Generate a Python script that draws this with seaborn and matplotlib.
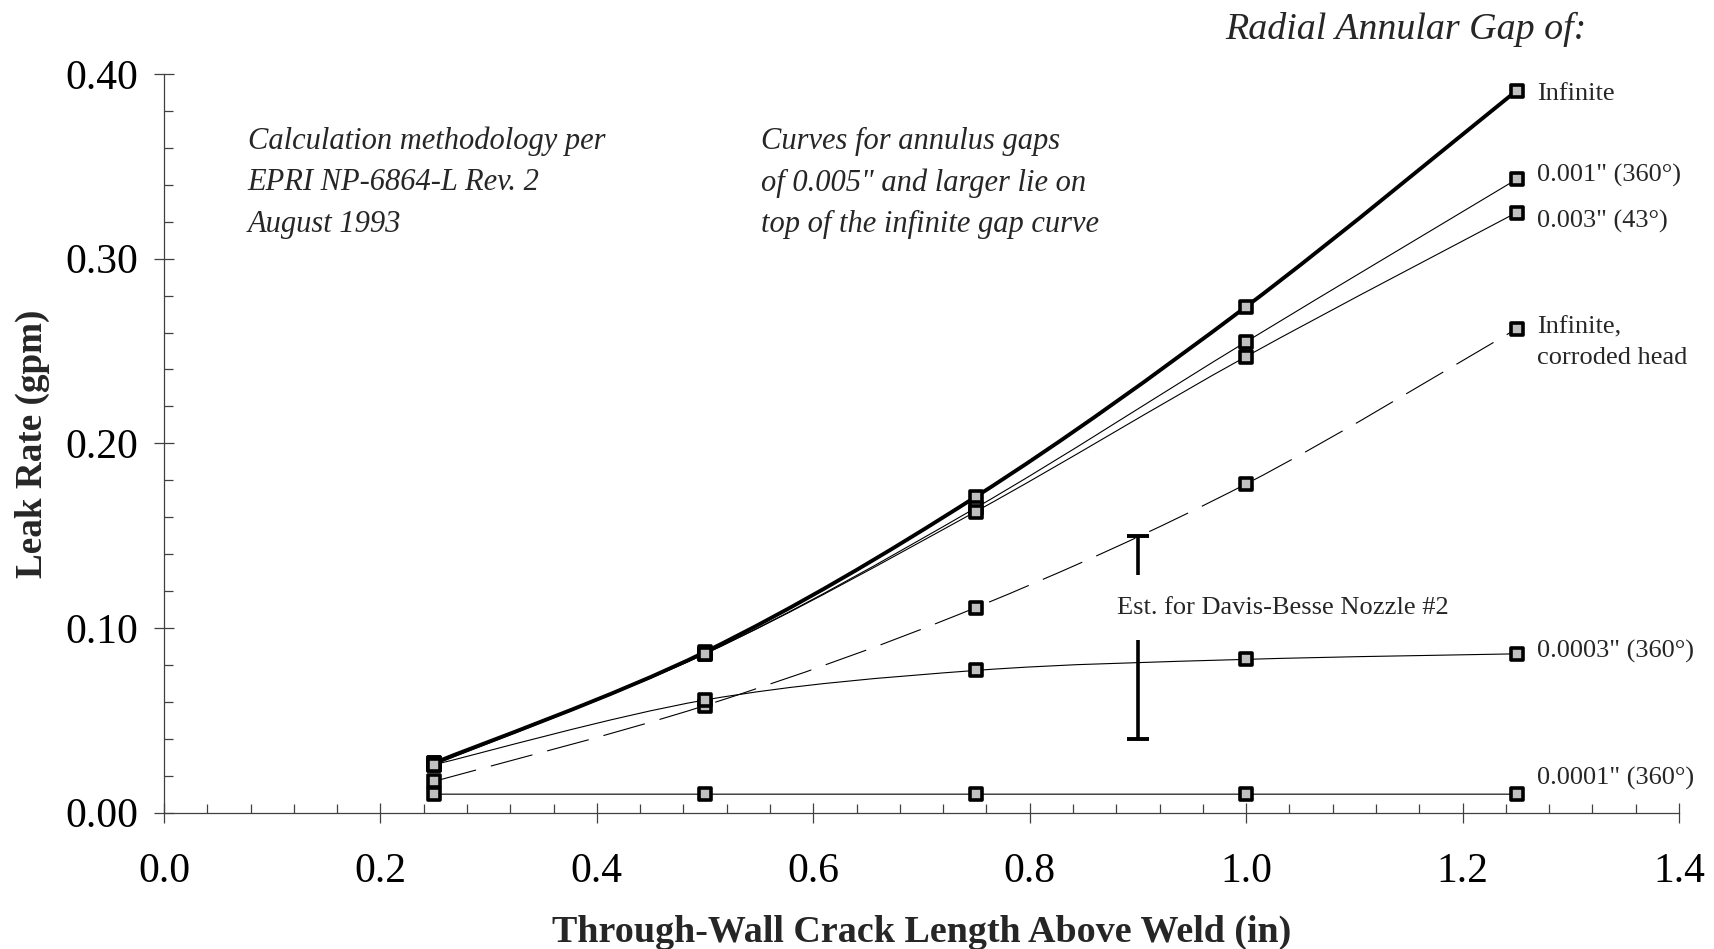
import numpy as np
import pandas as pd
import matplotlib
matplotlib.use("Agg")
import matplotlib.pyplot as plt
from matplotlib.path import Path
from matplotlib.patches import PathPatch, Rectangle
from matplotlib.ticker import MultipleLocator, FormatStrFormatter
import seaborn as sns

# Through-wall crack length above weld (in)
crack_length = [0.25, 0.50, 0.75, 1.00, 1.25]

# Leak rate (gpm) for each radial annular gap
leak_infinite = [0.027, 0.087, 0.171, 0.274, 0.391]
leak_gap_0010 = [0.027, 0.086, 0.165, 0.255, 0.343]
leak_gap_0030 = [0.026, 0.086, 0.163, 0.247, 0.325]
leak_corroded = [0.017, 0.058, 0.111, 0.178, 0.262]
leak_gap_0003 = [0.026, 0.061, 0.077, 0.083, 0.086]
leak_gap_0001 = [0.010, 0.010, 0.010, 0.010, 0.010]

series_names = ["Infinite", "0.001\" (360°)", "0.003\" (43°)",
                "Infinite,\ncorroded head", "0.0003\" (360°)", "0.0001\" (360°)"]
series_values = [leak_infinite, leak_gap_0010, leak_gap_0030,
                 leak_corroded, leak_gap_0003, leak_gap_0001]

# Davis-Besse nozzle #2 estimated range
est_x = 0.90
est_low = 0.04
est_high = 0.15

sns.set_theme(style="white")
plt.rcParams["font.family"] = ["Liberation Serif", "DejaVu Serif"]
plt.rcParams["lines.scale_dashes"] = False

fig = plt.figure(figsize=(17.15, 9.49), dpi=100)
ax = fig.add_axes([0.0956, 0.1437, 0.8834, 0.7783])


def smooth_path(xs, ys):
    """Cubic Bezier path through the points (Catmull-Rom style tangents)."""
    pts = np.column_stack([xs, ys]).astype(float)
    n = len(pts)
    verts = [pts[0]]
    codes = [Path.MOVETO]
    for i in range(n - 1):
        p0 = pts[i - 1] if i > 0 else pts[i]
        p1 = pts[i]
        p2 = pts[i + 1]
        p3 = pts[i + 2] if i + 2 < n else pts[i + 1]
        c1 = p1 + (p2 - p0) / 6.0
        c2 = p2 - (p3 - p1) / 6.0
        verts += [c1, c2, p2]
        codes += [Path.CURVE4] * 3
    return Path(verts, codes)


line_styles = {
    "Infinite": dict(lw=2.8, ls="-"),
    "0.001\" (360°)": dict(lw=0.8, ls="-"),
    "0.003\" (43°)": dict(lw=0.8, ls="-"),
    "Infinite,\ncorroded head": dict(lw=0.8, ls=(0, (31, 11))),
    "0.0003\" (360°)": dict(lw=0.8, ls="-"),
    "0.0001\" (360°)": dict(lw=0.8, ls="-"),
}

# draw thin curves first, thick "Infinite" curve on top
for name, vals in list(zip(series_names, series_values))[::-1]:
    st = line_styles[name]
    patch = PathPatch(smooth_path(crack_length, vals), facecolor="none",
                      edgecolor="black", lw=st["lw"], linestyle=st["ls"],
                      capstyle="butt", joinstyle="round", zorder=3)
    ax.add_patch(patch)

# square markers at the computed points
df = pd.DataFrame({
    "crack": np.tile(crack_length, len(series_names)),
    "leak": np.concatenate(series_values),
    "series": np.repeat(series_names, len(crack_length)),
})
sns.scatterplot(data=df, x="crack", y="leak", marker="s", s=70,
                color="#c0c0c0", edgecolor="black", linewidth=2.6,
                legend=False, ax=ax, zorder=5)
for coll in ax.collections:
    coll.set_joinstyle("round")

# estimate range bar for Davis-Besse nozzle #2, broken around its label
ax.errorbar([est_x], [(est_low + est_high) / 2],
            yerr=[[(est_high - est_low) / 2], [(est_high - est_low) / 2]],
            fmt="none", ecolor="black", elinewidth=2.6, capsize=8,
            capthick=2.8, zorder=4)
ax.add_patch(Rectangle((est_x - 0.01, 0.0936), 0.02, 0.035,
                       facecolor="white", edgecolor="none", zorder=4.5))
ax.text(0.881, 0.1108, "Est. for Davis-Besse Nozzle #2", fontsize=19,
        va="center", ha="left", zorder=6)

# series labels at the right end of each curve
label_y = [0.3892, 0.3449, 0.3200, 0.2545, 0.0871, 0.0183]
for name, ly in zip(series_names, label_y):
    ax.text(1.2686, ly, name, fontsize=19, va="center", ha="left",
            linespacing=1.5, zorder=6)

# notes
ax.text(0.0775, 0.3714, "Calculation methodology per\nEPRI NP-6864-L Rev. 2\nAugust 1993",
        fontsize=22, style="italic", va="top", ha="left", linespacing=1.55)
ax.text(0.552, 0.3714, "Curves for annulus gaps\nof 0.005\" and larger lie on\ntop of the infinite gap curve",
        fontsize=22, style="italic", va="top", ha="left", linespacing=1.55)
fig.text(0.925, 0.969, "Radial Annular Gap of:", fontsize=27.4, style="italic",
         ha="right", va="center")

# axes
ax.set_xlim(0.0, 1.4)
ax.set_ylim(0.0, 0.40)
ax.xaxis.set_major_locator(MultipleLocator(0.2))
ax.xaxis.set_minor_locator(MultipleLocator(0.04))
ax.yaxis.set_major_locator(MultipleLocator(0.10))
ax.yaxis.set_minor_locator(MultipleLocator(0.02))
ax.xaxis.set_major_formatter(FormatStrFormatter("%.1f"))
ax.yaxis.set_major_formatter(FormatStrFormatter("%.2f"))

for side in ("top", "right"):
    ax.spines[side].set_visible(False)
for side in ("left", "bottom"):
    ax.spines[side].set_color("#404040")
    ax.spines[side].set_linewidth(0.9)

ax.tick_params(which="major", direction="inout", length=14, width=0.9,
               color="#404040", labelsize=30, labelcolor="black")
ax.tick_params(which="minor", direction="in", length=6.5, width=0.9,
               color="#404040")
ax.tick_params(axis="x", which="major", pad=22)
ax.tick_params(axis="y", which="major", pad=11.5)
ax.tick_params(which="both", left=True, bottom=True)

ax.set_xlabel("Through-Wall Crack Length Above Weld (in)", fontsize=27.4,
              fontweight="bold", labelpad=17)
ax.set_ylabel("Leak Rate (gpm)", fontsize=26.7, fontweight="bold", labelpad=11)
ax.set_facecolor("white")
fig.patch.set_facecolor("white")

fig.savefig("out.png", dpi=100, facecolor="white")
